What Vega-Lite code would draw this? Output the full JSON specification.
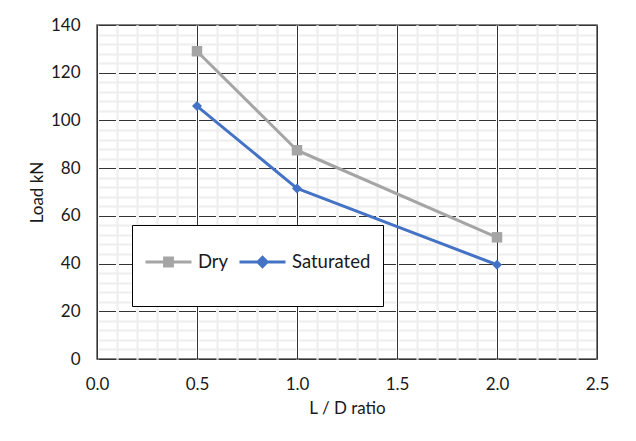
{
  "$schema": "https://vega.github.io/schema/vega-lite/v6.json",
  "width": 500,
  "height": 334,
  "autosize": {"type": "none"},
  "padding": {"left": 97, "top": 25, "right": 39, "bottom": 82},
  "background": "white",
  "config": {"view": {"stroke": "#595959", "strokeWidth": 1.5}, "font": "Lato"},
  "data": {"values": [
    {"ratio": 0.5, "load": 129, "series": "Dry"},
    {"ratio": 1.0, "load": 87.5, "series": "Dry"},
    {"ratio": 2.0, "load": 51, "series": "Dry"},
    {"ratio": 0.5, "load": 106, "series": "Saturated"},
    {"ratio": 1.0, "load": 71.5, "series": "Saturated"},
    {"ratio": 2.0, "load": 39.5, "series": "Saturated"}
  ]},
  "encoding": {
    "color": {
      "field": "series", "type": "nominal",
      "scale": {"domain": ["Dry", "Saturated"], "range": ["#A5A5A5", "#4472C4"]},
      "legend": {
        "orient": "none", "legendX": 35, "legendY": 200, "direction": "horizontal",
        "title": null, "fillColor": "white", "strokeColor": "#000000",
        "padding": 12, "symbolSize": 2116, "labelOffset": 5, "columnPadding": 4,
        "labelFontSize": 18.5, "labelFont": "Lato", "labelColor": "#1a1a1a",
        "symbolType": "M-1,0H1M-0.16,-0.16H0.16V0.16H-0.16Z",
        "encode": {"symbols": {"update": {
          "shape": {"signal": "datum.value === 'Dry' ? 'M0,-1.11M0,1.11M-1,0H1M-0.17,-0.17H0.17V0.17H-0.17Z' : 'M0,-1.11M0,1.11M-1,0H1M0,-0.2L0.2,0L0,0.2L-0.2,0Z'"},
          "fill": {"scale": "color", "field": "value"},
          "stroke": {"scale": "color", "field": "value"},
          "strokeWidth": {"value": 3},
          "opacity": {"value": 1}
        }}}
      }
    }
  },
  "layer": [
    {
      "mark": {"type": "line", "strokeWidth": 3, "strokeJoin": "round", "strokeCap": "round"},
      "encoding": {
        "x": {"field": "ratio", "type": "quantitative", "scale": {"domain": [0, 2.5], "nice": false},
          "axis": {"orient": "bottom", "values": [0, 0.5, 1, 1.5, 2, 2.5], "format": ".1f", "grid": true,
            "gridColor": "#333333", "gridWidth": 1, "domain": false, "ticks": false, "labelPadding": 17,
            "labelFontSize": 17, "labelColor": "#1a1a1a", "labelFlush": false, "title": "L / D ratio",
            "titleFontSize": 17, "titleFontWeight": "normal", "titleColor": "#1a1a1a", "titlePadding": 8}},
        "y": {"field": "load", "type": "quantitative", "scale": {"domain": [0, 140], "nice": false},
          "axis": {"orient": "left", "values": [0, 20, 40, 60, 80, 100, 120, 140], "grid": true,
            "gridColor": "#333333", "gridWidth": 1, "gridDash": [17, 3], "gridDashOffset": -1.5,
            "domain": false, "ticks": false, "labelPadding": 17, "labelFontSize": 17, "labelColor": "#1a1a1a",
            "title": "Load kN", "titleFontSize": 17, "titleFontWeight": "normal", "titleColor": "#1a1a1a", "titlePadding": 4}}
      }
    },
    {
      "transform": [{"filter": "datum.series === 'Dry'"}],
      "mark": {"type": "point", "shape": "square", "filled": true, "opacity": 1, "strokeWidth": 0, "size": 110},
      "encoding": {
        "x": {"field": "ratio", "type": "quantitative", "scale": {"domain": [0, 2.5], "nice": false},
          "axis": {"orient": "bottom", "values": [0.1, 0.2, 0.3, 0.4, 0.6, 0.7, 0.8, 0.9, 1.1, 1.2, 1.3, 1.4, 1.6, 1.7, 1.8, 1.9, 2.1, 2.2, 2.3, 2.4],
            "grid": true, "gridColor": "#eeeeee", "gridWidth": 2, "labels": false, "ticks": false, "domain": false, "title": null}},
        "y": {"field": "load", "type": "quantitative", "scale": {"domain": [0, 140], "nice": false},
          "axis": {"orient": "left", "values": [4, 8, 12, 16, 24, 28, 32, 36, 44, 48, 52, 56, 64, 68, 72, 76, 84, 88, 92, 96, 104, 108, 112, 116, 124, 128, 132, 136],
            "grid": true, "gridColor": "#eeeeee", "gridWidth": 2, "gridDash": [97, 3], "gridDashOffset": -1.5,
            "labels": false, "ticks": false, "domain": false, "title": null}}
      }
    },
    {
      "transform": [{"filter": "datum.series === 'Saturated'"}],
      "mark": {"type": "point", "shape": "diamond", "filled": true, "opacity": 1, "strokeWidth": 0, "size": 100},
      "encoding": {
        "x": {"field": "ratio", "type": "quantitative", "scale": {"domain": [0, 2.5], "nice": false}, "axis": null},
        "y": {"field": "load", "type": "quantitative", "scale": {"domain": [0, 140], "nice": false}, "axis": null}
      }
    }
  ],
  "resolve": {"axis": {"x": "independent", "y": "independent"}}
}
